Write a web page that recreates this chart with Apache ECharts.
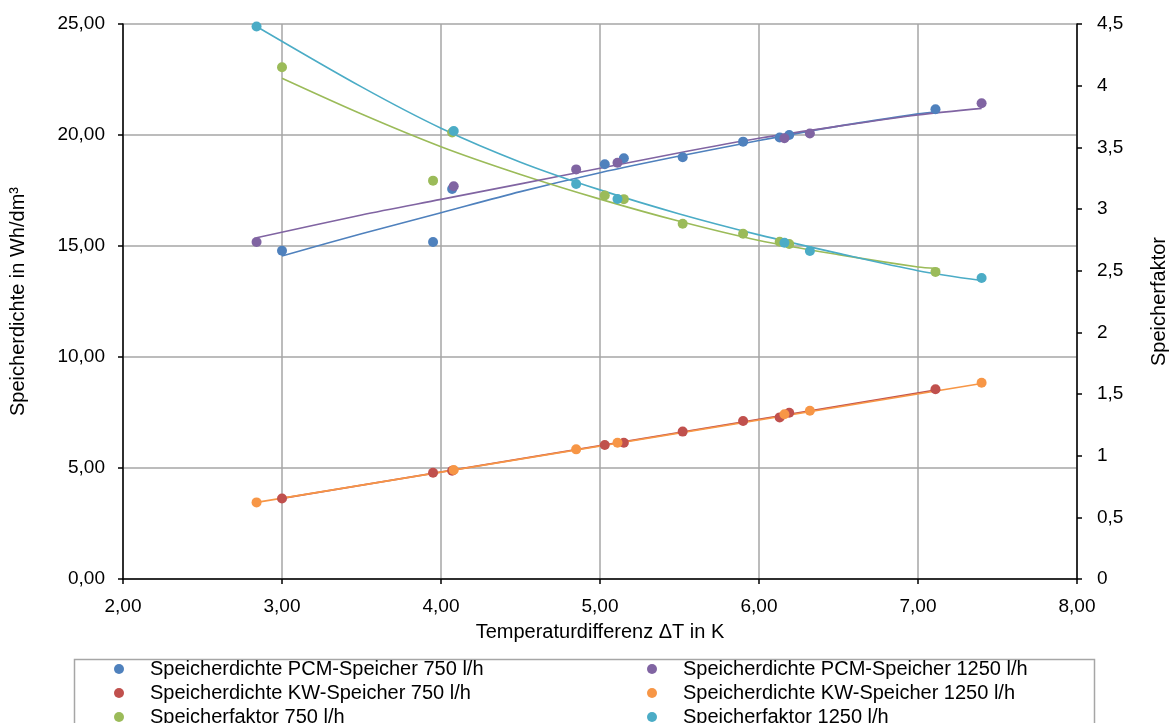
<!DOCTYPE html>
<html>
<head>
<meta charset="utf-8">
<script src="https://cdn.jsdelivr.net/npm/echarts@6/dist/echarts.min.js"></script>
<style>
  html, body { margin: 0; padding: 0; background: #ffffff; overflow: hidden; }
  #chart { width: 1171px; height: 723px; }
</style>
</head>
<body>
<div id="chart"></div>
<script>
// Messreihe 750 l/h
const x750 = [3.00, 3.95, 4.07, 5.03, 5.15, 5.52, 5.90, 6.13, 6.19, 7.11];
const pcm750 = [14.79, 15.18, 17.57, 18.68, 18.95, 19.00, 19.70, 19.89, 20.00, 21.16];
const kw750 = [3.63, 4.79, 4.88, 6.04, 6.14, 6.64, 7.12, 7.28, 7.49, 8.55];
const faktor750 = [4.15, 3.23, 3.62, 3.11, 3.08, 2.88, 2.80, 2.735, 2.716, 2.49];

// Messreihe 1250 l/h
const x1250 = [2.84, 4.08, 4.85, 5.11, 6.16, 6.32, 7.40];
const pcm1250 = [15.18, 17.69, 18.45, 18.75, 19.85, 20.07, 21.43];
const kw1250 = [3.45, 4.91, 5.84, 6.14, 7.42, 7.58, 8.84];
const faktor1250 = [4.48, 3.633, 3.203, 3.081, 2.727, 2.66, 2.44];

// Trendlinien (Stützstellen)
const trendX750 = [3.00, 3.50, 4.00, 4.50, 5.00, 5.50, 6.00, 6.50, 7.00, 7.11];
const trendPcm750 = [14.55, 15.55, 16.50, 17.45, 18.30, 19.05, 19.75, 20.40, 20.95, 21.05];
const trendFaktor750 = [4.06, 3.77, 3.505, 3.28, 3.08, 2.90, 2.745, 2.63, 2.53, 2.52];
const trendX1250 = [2.84, 3.50, 4.00, 4.50, 5.00, 5.50, 6.00, 6.50, 7.00, 7.40];
const trendPcm1250 = [15.37, 16.40, 17.10, 17.80, 18.50, 19.20, 19.85, 20.40, 20.90, 21.20];
const trendFaktor1250 = [4.48, 3.99, 3.655, 3.38, 3.155, 2.96, 2.79, 2.64, 2.50, 2.42];
const trendKwX750 = [3.00, 7.11];
const trendKw750 = [3.63, 8.51];
const trendKwX1250 = [2.84, 7.40];
const trendKw1250 = [3.45, 8.81];

const names = {
  pcm750: 'Speicherdichte PCM-Speicher 750 l/h',
  kw750: 'Speicherdichte KW-Speicher 750 l/h',
  f750: 'Speicherfaktor 750 l/h',
  pcm1250: 'Speicherdichte PCM-Speicher 1250 l/h',
  kw1250: 'Speicherdichte KW-Speicher 1250 l/h',
  f1250: 'Speicherfaktor 1250 l/h'
};

const colors = {
  pcm750: '#4f81bd', kw750: '#c0504d', f750: '#9bbb59',
  pcm1250: '#8064a2', kw1250: '#f79646', f1250: '#4bacc6'
};

const FONT = 'Liberation Sans, Arial, sans-serif';
const GRID_COLOR = '#a6a6a6';
const TICK_SIZE = 19;
const TITLE_SIZE = 20;

function zip(xs, ys) { return xs.map((x, i) => [x, ys[i]]); }
function comma(v, d) { return (d == null ? String(v) : v.toFixed(d)).replace('.', ','); }

function trend(key, xs, ys, axis) {
  return {
    type: 'line', name: names[key] + ' Trend', yAxisIndex: axis,
    data: zip(xs, ys), showSymbol: false, symbol: 'none', smooth: 0.3,
    lineStyle: { color: colors[key], width: 1.6 }, silent: true, z: 2
  };
}
function points(key, xs, ys, axis) {
  return {
    type: 'scatter', name: names[key], yAxisIndex: axis,
    data: zip(xs, ys), symbol: 'circle', symbolSize: 10,
    itemStyle: { color: colors[key], opacity: 1 }, z: 3
  };
}

const legendText = { fontFamily: FONT, fontSize: TITLE_SIZE, color: '#000', padding: [0, 0, 0, 21] };
const axisName = { fontFamily: FONT, fontSize: TITLE_SIZE, color: '#000' };
const tickLabel = { fontFamily: FONT, fontSize: TICK_SIZE, color: '#000' };

const option = {
  animation: false,
  textStyle: { fontFamily: FONT },
  grid: { left: 123, right: 94, top: 24, bottom: 144, containLabel: false, outerBoundsMode: 'none' },
  xAxis: {
    type: 'value', min: 2, max: 8, interval: 1,
    name: 'Temperaturdifferenz ΔT in K', nameLocation: 'middle', nameGap: 43,
    nameTextStyle: axisName,
    axisLine: { show: true, onZero: false, lineStyle: { color: '#000', width: 1.5 } },
    axisTick: { show: true, length: 5, inside: false, lineStyle: { color: '#000', width: 1.5 } },
    axisLabel: Object.assign({ margin: 18, formatter: v => comma(v, 2) }, tickLabel),
    splitLine: { show: true, lineStyle: { color: GRID_COLOR, width: 1.5 } }
  },
  yAxis: [
    {
      type: 'value', min: 0, max: 25, interval: 5, position: 'left',
      name: 'Speicherdichte in Wh/dm³', nameLocation: 'middle', nameGap: 95, nameRotate: 90,
      nameTextStyle: axisName,
      axisLine: { show: true, lineStyle: { color: '#000', width: 1.5 } },
      axisTick: { show: true, length: 5, lineStyle: { color: '#000', width: 1.5 } },
      axisLabel: Object.assign({ margin: 18, formatter: v => comma(v, 2) }, tickLabel),
      splitLine: { show: true, lineStyle: { color: GRID_COLOR, width: 1.5 } }
    },
    {
      type: 'value', min: 0, max: 4.5, interval: 0.5, position: 'right',
      name: 'Speicherfaktor', nameLocation: 'middle', nameGap: 72, nameRotate: 90,
      nameTextStyle: axisName,
      axisLine: { show: true, lineStyle: { color: '#000', width: 1.5 } },
      axisTick: { show: true, length: 5, lineStyle: { color: '#000', width: 1.5 } },
      axisLabel: Object.assign({ margin: 20, formatter: v => comma(v) }, tickLabel),
      splitLine: { show: false }
    }
  ],
  legend: [
    {
      orient: 'vertical', left: 114, top: 659, height: 120, padding: 0, itemGap: 4,
      icon: 'circle', itemWidth: 10, itemHeight: 10,
      textStyle: legendText,
      data: [names.pcm750, names.kw750, names.f750]
    },
    {
      orient: 'vertical', left: 647, top: 659, height: 120, padding: 0, itemGap: 4,
      icon: 'circle', itemWidth: 10, itemHeight: 10,
      textStyle: legendText,
      data: [names.pcm1250, names.kw1250, names.f1250]
    }
  ],
  graphic: [
    {
      type: 'rect', left: 72, top: 657, silent: true,
      shape: { width: 1020, height: 90 },
      style: { fill: 'none', stroke: GRID_COLOR, lineWidth: 1.5 }
    }
  ],
  series: [
    trend('pcm750', trendX750, trendPcm750, 0),
    trend('kw750', trendKwX750, trendKw750, 0),
    trend('f750', trendX750, trendFaktor750, 1),
    trend('pcm1250', trendX1250, trendPcm1250, 0),
    trend('kw1250', trendKwX1250, trendKw1250, 0),
    trend('f1250', trendX1250, trendFaktor1250, 1),
    points('pcm750', x750, pcm750, 0),
    points('kw750', x750, kw750, 0),
    points('f750', x750, faktor750, 1),
    points('pcm1250', x1250, pcm1250, 0),
    points('kw1250', x1250, kw1250, 0),
    points('f1250', x1250, faktor1250, 1)
  ]
};

const chart = echarts.init(document.getElementById('chart'), null, { renderer: 'canvas' });
chart.setOption(option);
</script>
</body>
</html>
